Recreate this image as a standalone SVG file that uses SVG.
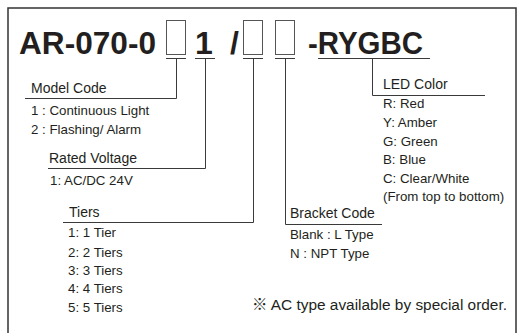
<svg xmlns="http://www.w3.org/2000/svg" width="525" height="333" viewBox="0 0 525 333">
<style>
.t{font-family:"Liberation Sans",Arial,sans-serif;fill:#231f20}
.h{font-size:14px}
.i{font-size:13.3px}
.b{font-size:32px;font-weight:bold}
.ln{fill:none;stroke:#3a3a3a;stroke-width:1}
.bx{fill:#fff;stroke:#555;stroke-width:1}
</style>
<rect width="525" height="333" fill="#fff"/>
<path d="M8,333 V8 H516 V333" fill="none" stroke="#333" stroke-width="1.5"/>
<g id="title">
<text class="t b" x="19" y="54" textLength="137" lengthAdjust="spacingAndGlyphs">AR-070-0</text>
<rect class="bx" x="166.5" y="20.5" width="19" height="34"/>
<text class="t b" x="195" y="54">1</text>
<text class="t b" x="230" y="54">/</text>
<rect class="bx" x="243.5" y="20.5" width="19" height="34"/>
<rect class="bx" x="275.5" y="20.5" width="19" height="34"/>
<text class="t b" x="308" y="54" textLength="115" lengthAdjust="spacingAndGlyphs">-RYGBC</text>
</g>
<g id="connectors" class="ln">
<path d="M166,58.5 H186 M195,58.5 H215 M243,58.5 H263 M275,58.5 H295 M318,58.5 H430"/>
<path d="M176.5,58.5 V98.5 H25"/>
<path d="M205.5,58.5 V168.5 H48"/>
<path d="M253.5,58.5 V222.5 H63"/>
<path d="M285.5,58.5 V224.5 H382"/>
<path d="M372.5,58.5 V95.5 H485"/>
</g>
<g id="model-code">
<text class="t h" x="31" y="93">Model Code</text>
<text class="t i" x="31" y="115">1 : Continuous Light</text>
<text class="t i" x="31" y="134">2 : Flashing/ Alarm</text>
</g>
<g id="rated-voltage">
<text class="t h" x="49" y="163">Rated Voltage</text>
<text class="t i" x="50" y="185">1: AC/DC 24V</text>
</g>
<g id="tiers">
<text class="t h" x="69" y="217">Tiers</text>
<text class="t i" x="68" y="237">1: 1 Tier</text>
<text class="t i" x="68" y="257">2: 2 Tiers</text>
<text class="t i" x="68" y="275">3: 3 Tiers</text>
<text class="t i" x="68" y="293">4: 4 Tiers</text>
<text class="t i" x="68" y="312">5: 5 Tiers</text>
</g>
<g id="bracket-code">
<text class="t h" x="290" y="218">Bracket Code</text>
<text class="t i" x="290" y="239">Blank : L Type</text>
<text class="t i" x="290" y="258">N  : NPT Type</text>
</g>
<g id="led-color">
<text class="t h" x="383" y="89">LED Color</text>
<text class="t i" x="383" y="108">R: Red</text>
<text class="t i" x="383" y="127">Y: Amber</text>
<text class="t i" x="383" y="146">G: Green</text>
<text class="t i" x="383" y="164">B: Blue</text>
<text class="t i" x="383" y="183">C: Clear/White</text>
<text class="t i" x="383" y="201">(From top to bottom)</text>
</g>
<g id="note">
<text x="252" y="310" style="font-family:'Liberation Sans','Noto Sans CJK JP',sans-serif;font-size:15.4px;fill:#231f20">※ AC type available by special order.</text>
</g>
</svg>
